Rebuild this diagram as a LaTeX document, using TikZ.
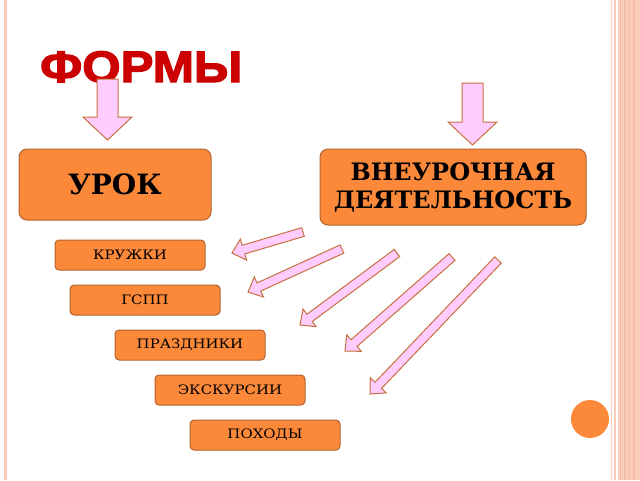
\documentclass[tikz,border=0pt]{standalone}
\usepackage{fontspec}
\setmainfont{DejaVu Serif}
\newfontfamily\titlefont{Liberation Sans Bold}[FakeBold=3,FakeStretch=1.12]
\newfontfamily\boxfont{DejaVu Serif}[FakeStretch=1.15]
\usetikzlibrary{calc}

\definecolor{boxorange}{RGB}{252,137,58}
\definecolor{boxedge}{RGB}{180,98,45}
\definecolor{arrowpink}{RGB}{255,204,255}
\definecolor{arrowedge}{RGB}{200,112,62}
\definecolor{framepink}{RGB}{251,204,186}
\definecolor{framestripe}{RGB}{246,188,166}
\definecolor{titlered}{RGB}{204,0,0}

\tikzset{
  bigbox/.style={draw=boxedge, fill=boxorange, rounded corners=8pt, line width=1pt,
    align=center, inner sep=0pt},
  smallbox/.style={draw=boxedge, fill=boxorange, rounded corners=4pt, line width=1pt,
    minimum width=150pt, minimum height=30pt, inner sep=0pt,
    font=\boxfont\fontsize{13}{15}\selectfont},
  blockarrow/.style={draw=arrowedge, fill=arrowpink, line width=1pt, line join=miter},
}

% fat arrow: tail, tip, half shaft, half head, head length
\newcommand{\fatarrow}[5]{%
  \coordinate (fa-h) at ($(#2)!#5!(#1)$);
  \draw[blockarrow] ($(#1)!#3!90:(#2)$) -- ($(fa-h)!#3!90:(#2)$)
    -- ($(fa-h)!#4!90:(#2)$) -- (#2) -- ($(fa-h)!#4!-90:(#2)$)
    -- ($(fa-h)!#3!-90:(#2)$) -- ($(#1)!#3!-90:(#2)$) -- cycle;
}

\begin{document}
\begin{tikzpicture}[x=1pt,y=-1pt]
    \useasboundingbox (0,0) rectangle (640,480);
    \fill[white] (0,0) rectangle (640,480);
    % frame lines
    \fill[framepink] (4,0) rectangle (7,480);
    \fill[framepink] (610.5,0) rectangle (612,480);
    \fill[framepink] (613.5,0) rectangle (615.5,480);
    \fill[framepink] (618,0) rectangle (640,480);
    \foreach \xs in {619.5,624,628.5,633}
        \fill[framestripe] (\xs,0) rectangle (\xs+1.5,480);
    \fill[boxorange] (590,419) circle (19);

    % title
    \node[anchor=base west, inner sep=0pt, text=titlered,
        font=\titlefont\fontsize{44}{44}\selectfont] (title) at (40,82) {ФОРМЫ};

    % main boxes
    \node[bigbox, minimum width=192pt, minimum height=71pt,
        font=\bfseries\fontsize{28}{30}\selectfont] (urok) at (115,184.5) {УРОК};
    \node[bigbox, minimum width=266pt, minimum height=76pt,
        font=\bfseries\fontsize{24}{28}\selectfont] (vneur) at (453,187)
        {ВНЕУРОЧНАЯ\\ДЕЯТЕЛЬНОСТЬ};

    % small boxes
    \node[smallbox] (kruzhki) at (130,255) {КРУЖКИ};
    \node[smallbox] (gspp)    at (145,300) {ГСПП};
    \node[smallbox] (prazd)   at (190,345) {ПРАЗДНИКИ};
    \node[smallbox] (ekskur)  at (230,390) {ЭКСКУРСИИ};
    \node[smallbox] (pohody)  at (265,435) {ПОХОДЫ};

    % down arrows
    \coordinate (d1s) at (107.5,79);  \coordinate (d1e) at (107.5,140);
    \coordinate (d2s) at (472.5,83);  \coordinate (d2e) at (472.5,145);
    \fatarrow{d1s}{d1e}{10.5pt}{24.5pt}{23pt}
    \fatarrow{d2s}{d2e}{10.5pt}{24.5pt}{23pt}

    % arrows to the activities
    \coordinate (a1s) at (303,232);  \coordinate (a1e) at (232,253);
    \coordinate (a2s) at (342,249);  \coordinate (a2e) at (248,292);
    \coordinate (a3s) at (397,253);  \coordinate (a3e) at (300,325);
    \coordinate (a4s) at (452,257);  \coordinate (a4e) at (345,351);
    \coordinate (a5s) at (498,260);  \coordinate (a5e) at (370,394);
    \foreach \i in {1,...,5}
        {\fatarrow{a\i s}{a\i e}{4.5pt}{11pt}{12pt}}
\end{tikzpicture}
\end{document}
